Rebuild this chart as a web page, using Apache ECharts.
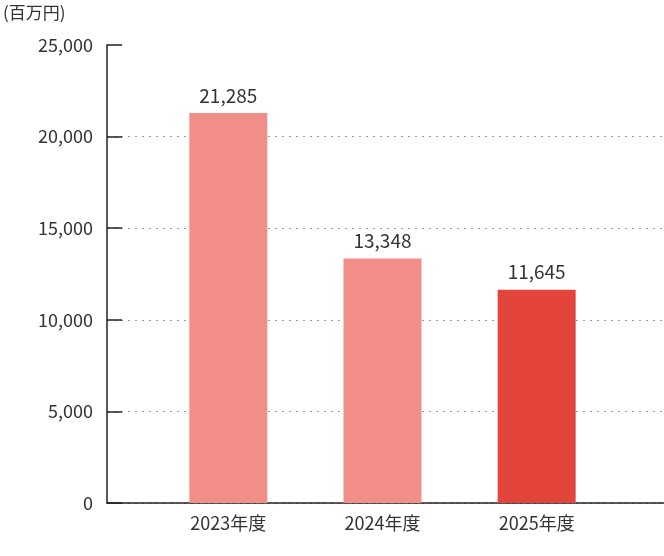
<!DOCTYPE html><html><head><meta charset="utf-8"><script src="https://cdn.jsdelivr.net/npm/echarts@6/dist/echarts.min.js"></script></head><body style="margin:0"><div id="c" style="width:664px;height:556px"></div><script>
const categories=['2023年度','2024年度','2025年度'];
const values=[21285,13348,11645];
const colors=['#f08e87','#f08e87','#e4453a'];
const yTicks=[0,5000,10000,15000,20000,25000];
const off=0.787;
const c=echarts.init(document.getElementById('c'));
const fmt=v=>v.toLocaleString('en-US');
c.setOption({animation:false,
grid:{left:104,right:0,top:45,bottom:53},
xAxis:{type:'value',min:0,max:3.613,axisLine:{lineStyle:{color:'#222',width:1.5}},splitLine:{show:false},axisTick:{show:false},
 axisLabel:{customValues:categories.map((_,i)=>i+off),formatter:v=>categories[Math.round(v-off)],color:'#333',fontSize:18,margin:11,fontFamily:'Noto Sans CJK JP'}},
yAxis:{type:'value',min:0,max:25000,interval:5000,axisLine:{show:true,lineStyle:{color:'#222',width:1.5}},
 axisTick:{show:true,inside:true,length:15,lineStyle:{color:'#222',width:1.5}},
 axisLabel:{formatter:fmt,color:'#333',fontSize:18,margin:14,fontFamily:'Noto Sans CJK JP'},
 splitLine:{showMaxLine:false,lineStyle:{type:[2,5],color:'#999'}},
 name:'(百万円)',nameLocation:'end',nameGap:24,nameTextStyle:{color:'#333',fontSize:17,align:'left',padding:[0,0,0,-104],fontFamily:'Noto Sans CJK JP'}},
series:[{type:'bar',barWidth:78,data:values.map((v,i)=>({value:[i+off,v],itemStyle:{color:colors[i]}})),
 label:{show:true,position:'top',distance:8,formatter:p=>fmt(p.value[1]),color:'#333',fontSize:19,fontFamily:'Noto Sans CJK JP'}}]});
</script></body></html>
